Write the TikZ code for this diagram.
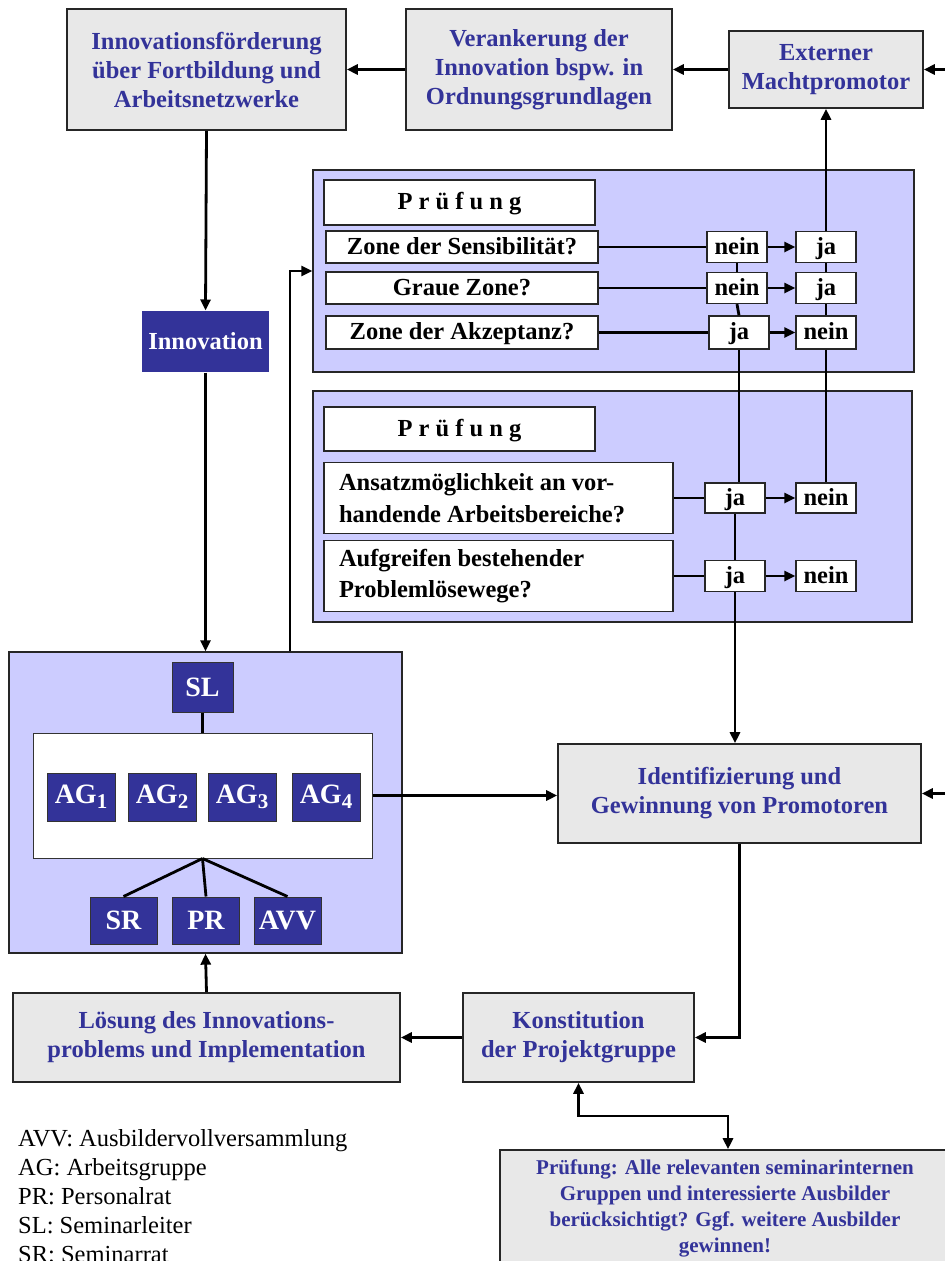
\documentclass[tikz,border=0pt]{standalone}
\usepackage{fontspec}
\setmainfont{Liberation Serif}
\usetikzlibrary{arrows.meta, positioning}
\definecolor{dunkelblau}{HTML}{333399}
\definecolor{lila}{HTML}{CCCCFF}
\definecolor{grau}{HTML}{E8E8E8}
\newcommand\haupt{\fontsize{24.5}{29}\selectfont}
\newcommand\klein{\fontsize{21}{26}\selectfont}
\newcommand\gross{\fontsize{28}{32}\selectfont}
\newcommand\ag[1]{AG\raisebox{-5pt}{\fontsize{21}{21}\selectfont #1}}

\begin{document}
\begin{tikzpicture}[x=1pt, y=-1pt,
    schritt/.style={draw=black!85, line width=1.6pt, fill=grau, text=dunkelblau, font=\haupt\bfseries, align=center, inner sep=0pt},
    gremium/.style={draw=black!80, line width=1pt, fill=dunkelblau, text=white, font=\gross\bfseries, inner sep=0pt},
    bereich/.style={draw=black!85, line width=1.3pt, fill=lila, inner sep=0pt},
    frage/.style={draw=black!85, line width=1.3pt, fill=white, font=\haupt\bfseries, inner sep=0pt, text height=18pt, text depth=4pt},
    antwort/.style={draw=black!85, line width=1.3pt, fill=white, font=\haupt\bfseries, inner sep=0pt, text height=18pt, text depth=4pt, minimum width=60pt, minimum height=31pt},
    pfeil/.style={-{Triangle[length=11pt,width=10pt]}, line width=2.8pt},
    linie/.style={line width=2.8pt}]
    \useasboundingbox (0,0) rectangle (945,1261);
    \clip (0,0) rectangle (945,1261);

    % obere Reihe
    \node[schritt, minimum width=279pt, minimum height=121pt] (foerderung) at (206.5,69.5) {Innovationsförderung\\über Fortbildung und\\Arbeitsnetzwerke};
    \node[schritt, minimum width=266pt, minimum height=121pt] (verankerung) at (539,69.5) {Verankerung der\\Innovation bspw. in\\Ordnungsgrundlagen};
    \node[schritt, minimum width=194pt, minimum height=77pt] (extern) at (826,69.5) {Externer\\Machtpromotor};
    \coordinate (rand1) at (945,69.5);

    % Innovation
    \node[gremium, draw=none, font=\haupt\bfseries, minimum width=127pt, minimum height=61pt] (innovation) at (205.5,341.5) {Innovation};

    % Seminar mit Gremien
    \node[bereich, minimum width=393pt, minimum height=301pt] (seminar) at (205.5,802.5) {};
    \node[gremium, minimum width=61pt, minimum height=50pt] (sl) at (202.5,687) {SL};
    \node[draw=black!80, line width=1pt, fill=white, minimum width=339pt, minimum height=125pt] (agrahmen) at (202.5,795.5) {};
    \node[gremium, minimum width=68pt, minimum height=48pt] (ag1) at (81,797) {\ag{1}};
    \node[gremium, minimum width=68pt, minimum height=48pt] (ag2) at (162,797) {\ag{2}};
    \node[gremium, minimum width=68pt, minimum height=48pt] (ag3) at (242,797) {\ag{3}};
    \node[gremium, minimum width=68pt, minimum height=48pt] (ag4) at (326,797) {\ag{4}};
    \node[gremium, minimum width=67pt, minimum height=47pt] (sr) at (123.5,920.5) {SR};
    \node[gremium, minimum width=67pt, minimum height=47pt] (pr) at (206,920.5) {PR};
    \node[gremium, minimum width=67pt, minimum height=47pt] (avv) at (287.5,920.5) {AVV};

    % erste Pruefung
    \node[bereich, minimum width=601pt, minimum height=202pt] (pruefung1) at (613.5,271) {};
    \node[frage, minimum width=271pt, minimum height=45pt] (titel1) at (459.5,202.5) {P r ü f u n g};
    \node[frage, minimum width=272pt, minimum height=32pt] (frage1) at (462,247) {Zone der Sensibilität?};
    \node[frage, minimum width=272pt, minimum height=32pt] (frage2) at (462,288) {Graue Zone?};
    \node[frage, minimum width=272pt, minimum height=33pt] (frage3) at (462,332.5) {Zone der Akzeptanz?};
    \node[antwort] (nein1) at (737,247) {nein};
    \node[antwort] (ja1) at (826,247) {ja};
    \node[antwort] (nein2) at (737,288) {nein};
    \node[antwort] (ja2) at (826,288) {ja};
    \node[antwort, minimum height=33pt] (ja3) at (739,332.5) {ja};
    \node[antwort, minimum height=33pt] (nein3) at (826,332.5) {nein};

    % zweite Pruefung
    \node[bereich, minimum width=599pt, minimum height=231pt] (pruefung2) at (612.5,506.5) {};
    \node[frage, minimum width=271pt, minimum height=44pt] (titel2) at (459.5,429) {P r ü f u n g};
    \node[frage, font=\fontsize{24.5}{32}\selectfont\bfseries, align=flush left, text width=319pt, text height=, text depth=, inner xsep=15pt, minimum height=71pt] (frage4) at (498.5,498) {Ansatzmöglichkeit an vor-\\handende Arbeitsbereiche?};
    \node[frage, font=\fontsize{24.5}{31}\selectfont\bfseries, align=flush left, text width=319pt, text height=, text depth=, inner xsep=15pt, minimum height=71pt] (frage5) at (498.5,576) {Aufgreifen bestehender\\Problemlösewege?};
    \node[antwort, minimum height=30pt] (ja4) at (735,498) {ja};
    \node[antwort, minimum height=30pt] (nein4) at (826,498) {nein};
    \node[antwort] (ja5) at (735,576) {ja};
    \node[antwort] (nein5) at (826,576) {nein};

    % untere Schritte
    \node[schritt, minimum width=363pt, minimum height=99pt] (ident) at (739.5,793.5) {Identifizierung und\\Gewinnung von Promotoren};
    \coordinate (rand2) at (945,793.5);
    \node[schritt, minimum width=231pt, minimum height=89pt] (konstitution) at (578.5,1037.5) {Konstitution\\der Projektgruppe};
    \node[schritt, minimum width=387pt, minimum height=89pt] (loesung) at (206.5,1037.5) {Lösung des Innovations-\\problems und Implementation};
    \node[schritt, font=\klein\bfseries, minimum width=450pt, minimum height=116pt] (pruefung3) at (725,1208) {Prüfung: Alle relevanten seminarinternen\\Gruppen und interessierte Ausbilder\\berücksichtigt? Ggf. weitere Ausbilder\\gewinnen!};
    \coordinate (knick) at (728,1116);

    % Legende
    \foreach \kurz/\lang [count=\i from 0] in {AVV/Ausbildervollversammlung, AG/Arbeitsgruppe, PR/Personalrat, SL/Seminarleiter, SR/Seminarrat}
        \node[anchor=base west, inner sep=0pt, font=\haupt] (legende\i) at (18,1146+29*\i) {\kurz: \lang};

    % Verbindungen oben
    \draw[pfeil] (rand1) -- (extern.east);
    \draw[pfeil] (extern.west) -- (verankerung.east);
    \draw[pfeil] (verankerung.west) -- (foerderung.east);
    \draw[pfeil] (foerderung.south) -- (innovation.north);
    \draw[pfeil] (innovation.south) -- (seminar.north);
    \draw[pfeil] ([xshift=84.5pt]seminar.north) |- (pruefung1.west);

    % Gremien
    \draw[linie] (sl.south) -- (agrahmen.north);
    \draw[linie] (agrahmen.south) -- (sr.north);
    \draw[linie] (agrahmen.south) -- (pr.north);
    \draw[linie] (agrahmen.south) -- (avv.north);

    % Zeilen der Pruefungen
    \foreach \f/\a/\b in {frage1/nein1/ja1, frage2/nein2/ja2, frage3/ja3/nein3, frage4/ja4/nein4, frage5/ja5/nein5} {
        \draw[linie] (\f.east) -- (\a.west);
        \draw[pfeil] (\a.east) -- (\b.west);
    }

    % Spalten
    \draw[pfeil] (ja1.north) -- (extern.south);
    \draw[linie] (ja1.south) -- (ja2.north);
    \draw[linie] (ja2.south) -- (nein3.north);
    \draw[linie] (nein3.south) -- (nein4.north);
    \draw[linie] (nein1.south) -- (nein2.north);
    \draw[linie] (nein2.south) -- (ja3.north);
    \draw[linie] (ja3.south) -- (ja3.south |- ja4.north);
    \draw[linie] (ja4.south) -- (ja5.north);
    \draw[pfeil] (ja5.south) -- (ja5.south |- ident.north);

    % Verbindungen unten
    \draw[pfeil] (agrahmen.east) -- (agrahmen.east -| ident.west);
    \draw[pfeil] (rand2) -- (ident.east);
    \draw[pfeil] (ident.south) |- (konstitution.east);
    \draw[pfeil] (konstitution.west) -- (loesung.east);
    \draw[pfeil] (loesung.north) -- (seminar.south);
    \draw[pfeil, {Triangle[length=11pt,width=10pt]}-{Triangle[length=11pt,width=10pt]}] (konstitution.south) |- (knick) -- (knick |- pruefung3.north);
\end{tikzpicture}
\end{document}
